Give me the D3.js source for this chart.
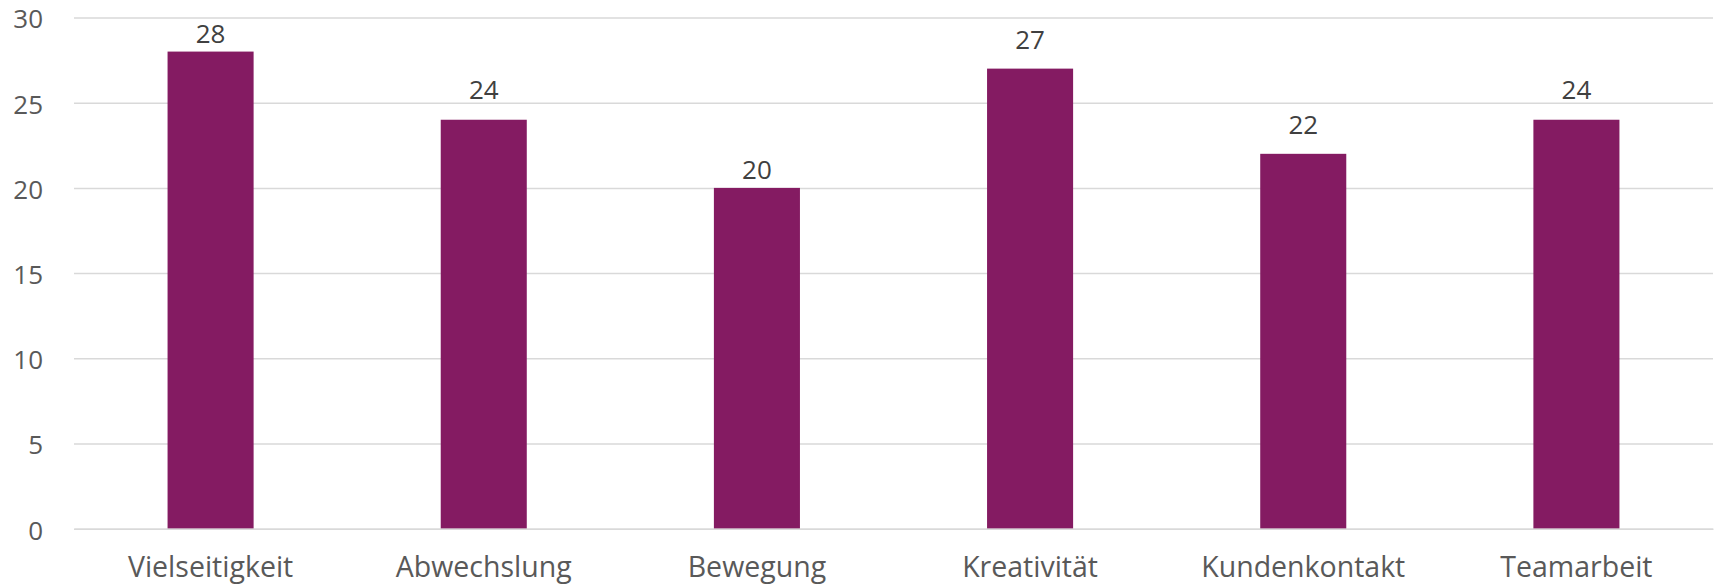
<!DOCTYPE html>
<html><head><meta charset="utf-8">
<script src="https://cdn.jsdelivr.net/npm/d3@7"></script>
<style>body{margin:0;background:#fff}</style>
</head><body>
<svg id="c" width="1714" height="586"></svg>
<script>
const categories = ["Vielseitigkeit","Abwechslung","Bewegung","Kreativität","Kundenkontakt","Teamarbeit"];
const values = [28,24,20,27,22,24];
const yTicks = [0,5,10,15,20,25,30];
// label gap above bar (px), as placed in the original
const labelGaps = [9,21,9,20,20,21];

const W=1714,H=586;
const m={left:74,right:1,top:17.5,bottom:57.3};
const svg=d3.select("#c");
const font="'Open Sans', sans-serif";
const x=d3.scaleBand().domain(categories).range([m.left,W-m.right]).paddingInner(0.685).paddingOuter(0.3425);
const y=d3.scaleLinear().domain([0,30]).range([H-m.bottom,m.top]);

const yAxis=d3.axisLeft(y).tickValues(yTicks).tickSize(-(W-m.left-m.right)).tickPadding(31);
const gy=svg.append("g").attr("transform",`translate(${m.left},0)`).call(yAxis);
gy.select(".domain").remove();
gy.selectAll(".tick line").attr("stroke","#d9d9d9").attr("stroke-width",1.5);
gy.selectAll(".tick text").attr("dy","0.4em").attr("fill","#595959").style("font-family",font).style("font-size","26px");

svg.append("g").selectAll("rect").data(values).join("rect")
  .attr("x",(d,i)=>x(categories[i])).attr("width",x.bandwidth())
  .attr("y",d=>y(d)).attr("height",d=>y(0)-y(d)).attr("fill","#841b62");

svg.append("g").selectAll("text").data(values).join("text")
  .attr("x",(d,i)=>x(categories[i])+x.bandwidth()/2).attr("y",(d,i)=>y(d)-labelGaps[i])
  .attr("text-anchor","middle").attr("fill","#404040")
  .style("font-family",font).style("font-size","26px").text(d=>d);

const xAxis=d3.axisBottom(x).tickSize(0).tickPadding(28);
const gx=svg.append("g").attr("transform",`translate(0,${y(0)})`).call(xAxis);
gx.select(".domain").attr("stroke","#d9d9d9").attr("stroke-width",1.5);
gx.selectAll(".tick text").attr("fill","#595959").style("font-family",font).style("font-size","28.5px");
</script>
</body></html>
